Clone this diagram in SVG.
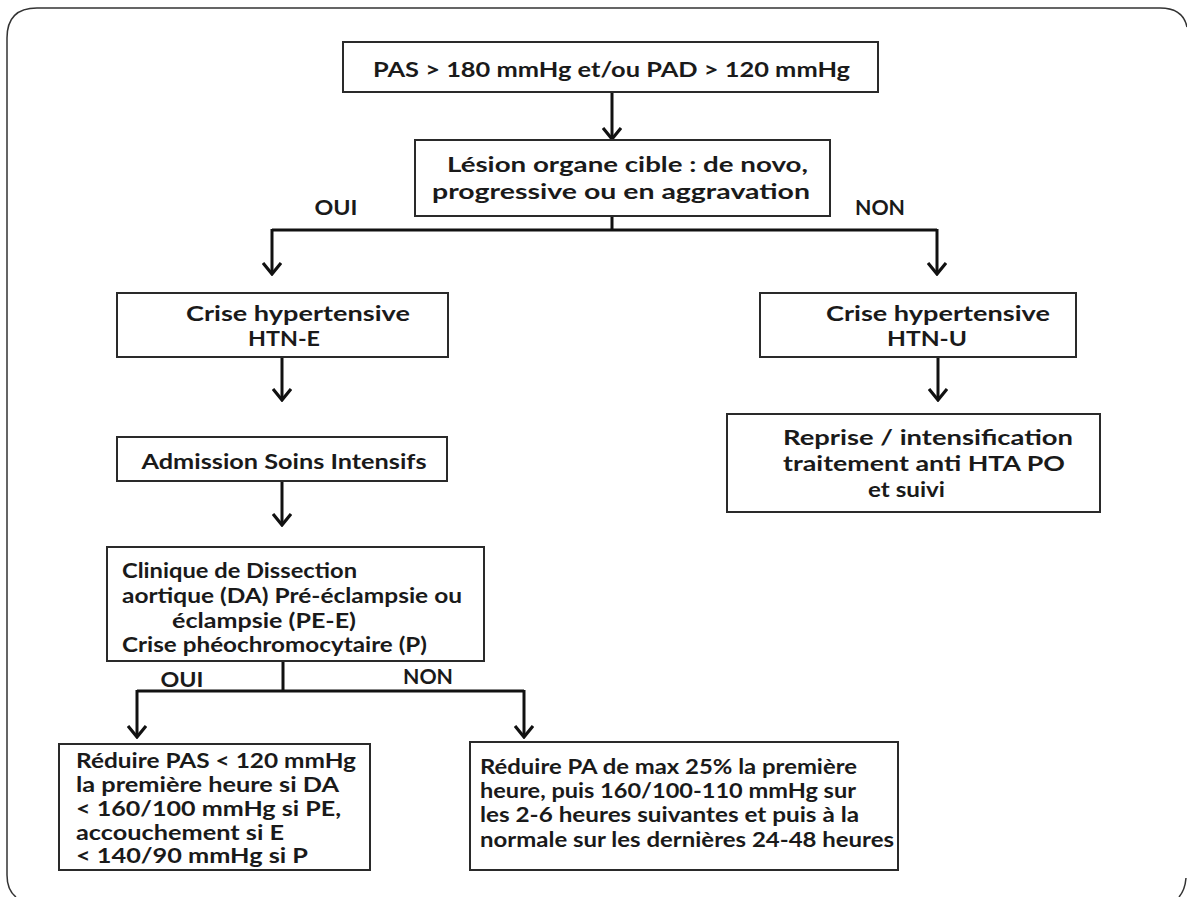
<svg xmlns="http://www.w3.org/2000/svg" width="1187" height="897" viewBox="0 0 1187 897">
<style>
.box{fill:#fff;stroke:#2a2a2a;stroke-width:2}
.t{font-family:Lato,"Liberation Sans",sans-serif;font-weight:bold;font-size:20.5px;fill:#1a1a1a}
.c{text-anchor:middle}
.ln{fill:none;stroke:#111;stroke-width:3}
.frame{fill:none;stroke:#333;stroke-width:1.5}
</style>
<defs>
<marker id="ah" viewBox="0 0 14 20" refX="12" refY="10" markerWidth="14" markerHeight="20" markerUnits="userSpaceOnUse" orient="auto">
<path d="M1,1 L12,10 L1,19" fill="none" stroke="#111" stroke-width="3.2"/>
</marker>
</defs>
<rect width="1187" height="897" fill="#fff"/>
<path class="frame" d="M16,897 Q7,890 7,875 L7,38 Q7,8 37,8 L1160,8 Q1183,8 1187,27 M1186,878 Q1185,890 1179,897"/>
<g id="connectors">
<path class="ln" d="M612,92 V139" marker-end="url(#ah)"/>
<path class="ln" d="M612,216 V230 M272,230 H937"/>
<path class="ln" d="M272,229 V274" marker-end="url(#ah)"/>
<path class="ln" d="M937,229 V274" marker-end="url(#ah)"/>
<path class="ln" d="M282,357 V400" marker-end="url(#ah)"/>
<path class="ln" d="M938,357 V400" marker-end="url(#ah)"/>
<path class="ln" d="M282,481 V525" marker-end="url(#ah)"/>
<path class="ln" d="M283,661 V691 M137,691 H524"/>
<path class="ln" d="M137,690 V737" marker-end="url(#ah)"/>
<path class="ln" d="M524,690 V737" marker-end="url(#ah)"/>
<text class="t c" x="336" y="215" textLength="43" lengthAdjust="spacingAndGlyphs">OUI</text>
<text class="t c" x="880" y="215" textLength="50" lengthAdjust="spacingAndGlyphs">NON</text>
<text class="t c" x="182" y="687" textLength="43" lengthAdjust="spacingAndGlyphs">OUI</text>
<text class="t c" x="428" y="684" textLength="50" lengthAdjust="spacingAndGlyphs">NON</text>
</g>
<g id="n1">
<rect class="box" x="343" y="42" width="535" height="50"/>
<text class="t" x="373" y="77" textLength="477" lengthAdjust="spacingAndGlyphs">PAS &gt; 180 mmHg et/ou PAD &gt; 120 mmHg</text>
</g>
<g id="n2">
<rect class="box" x="415" y="140" width="415" height="76"/>
<text class="t" x="447" y="172" textLength="361" lengthAdjust="spacingAndGlyphs">Lésion organe cible : de novo,</text>
<text class="t" x="432" y="199" textLength="378" lengthAdjust="spacingAndGlyphs">progressive ou en aggravation</text>
</g>
<g id="n3">
<rect class="box" x="117" y="293" width="331" height="64"/>
<text class="t" x="186" y="321" textLength="224" lengthAdjust="spacingAndGlyphs">Crise hypertensive</text>
<text class="t" x="248" y="346" textLength="72" lengthAdjust="spacingAndGlyphs">HTN-E</text>
</g>
<g id="n4">
<rect class="box" x="760" y="293" width="316" height="64"/>
<text class="t" x="826" y="321" textLength="224" lengthAdjust="spacingAndGlyphs">Crise hypertensive</text>
<text class="t" x="887" y="346" textLength="80" lengthAdjust="spacingAndGlyphs">HTN-U</text>
</g>
<g id="n5">
<rect class="box" x="117" y="437" width="330" height="44"/>
<text class="t c" x="284" y="469" textLength="285" lengthAdjust="spacingAndGlyphs">Admission Soins Intensifs</text>
</g>
<g id="n6">
<rect class="box" x="727" y="414" width="373" height="98"/>
<text class="t" x="783" y="445" textLength="290" lengthAdjust="spacingAndGlyphs">Reprise / intensification</text>
<text class="t" x="783" y="471" textLength="282" lengthAdjust="spacingAndGlyphs">traitement anti HTA PO</text>
<text class="t" x="868" y="497" textLength="77" lengthAdjust="spacingAndGlyphs">et suivi</text>
</g>
<g id="n7">
<rect class="box" x="107" y="547" width="377" height="114"/>
<text class="t" x="122" y="578" textLength="235" lengthAdjust="spacingAndGlyphs">Clinique de Dissection</text>
<text class="t" x="122" y="603" textLength="340" lengthAdjust="spacingAndGlyphs">aortique (DA) Pré-éclampsie ou</text>
<text class="t" x="172" y="628" textLength="184" lengthAdjust="spacingAndGlyphs">éclampsie (PE-E)</text>
<text class="t" x="122" y="652" textLength="305" lengthAdjust="spacingAndGlyphs">Crise phéochromocytaire (P)</text>
</g>
<g id="n8">
<rect class="box" x="59" y="744" width="311" height="126"/>
<text class="t" x="76" y="768" textLength="280" lengthAdjust="spacingAndGlyphs">Réduire PAS &lt; 120 mmHg</text>
<text class="t" x="76" y="792" textLength="263" lengthAdjust="spacingAndGlyphs">la première heure si DA</text>
<text class="t" x="76" y="816" textLength="265" lengthAdjust="spacingAndGlyphs">&lt; 160/100 mmHg si PE,</text>
<text class="t" x="76" y="840" textLength="208" lengthAdjust="spacingAndGlyphs">accouchement si E</text>
<text class="t" x="76" y="863" textLength="232" lengthAdjust="spacingAndGlyphs">&lt; 140/90 mmHg si P</text>
</g>
<g id="n9">
<rect class="box" x="470" y="742" width="428" height="128"/>
<text class="t" x="480" y="774" textLength="377" lengthAdjust="spacingAndGlyphs">Réduire PA de max 25% la première</text>
<text class="t" x="480" y="798" textLength="376" lengthAdjust="spacingAndGlyphs">heure, puis 160/100-110 mmHg sur</text>
<text class="t" x="480" y="822" textLength="379" lengthAdjust="spacingAndGlyphs">les 2-6 heures suivantes et puis à  la</text>
<text class="t" x="480" y="847" textLength="414" lengthAdjust="spacingAndGlyphs">normale sur les dernières 24-48 heures</text>
</g>
</svg>
